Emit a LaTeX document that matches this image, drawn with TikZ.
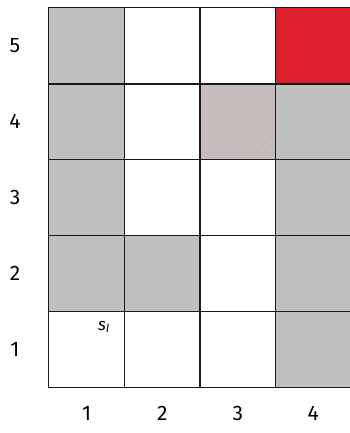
\documentclass[tikz,border=0pt]{standalone}
\usepackage{fontspec}
\setmainfont{Fira Sans}
\usetikzlibrary{patterns.meta, positioning}
\definecolor{gwall}{HTML}{C0C0C0}
\definecolor{ggoal}{HTML}{DC1F2A}
\definecolor{ghatch}{HTML}{EEA3AA}
\definecolor{gline}{HTML}{1A1A1A}
\tikzset{
  cell/.style={rectangle, minimum width=75.5pt, minimum height=75.8pt, inner sep=0pt},
  free/.style={fill=white},
  wall/.style={fill=gwall},
  goal/.style={fill=ggoal},
  trap/.style={fill=gwall, postaction={pattern={Lines[angle=45, distance=6pt, line width=0.7pt]},
               pattern color=ghatch}},
  edge/.style={draw=gline, line width=0.8pt},
  axlbl/.style={font=\fontsize{21}{25}\selectfont, inner sep=0pt}
}

\begin{document}
\begin{tikzpicture}[x=1pt, y=1pt]
  \useasboundingbox (0,0) rectangle (350,433);
  % grid cells, column/row/kind
  \foreach \c/\r/\k in {1/5/wall, 2/5/free, 3/5/free, 4/5/goal,
                        1/4/wall, 2/4/free, 3/4/trap, 4/4/wall,
                        1/3/wall, 2/3/free, 3/3/free, 4/3/wall,
                        1/2/wall, 2/2/wall, 3/2/free, 4/2/wall,
                        1/1/free, 2/1/free, 3/1/free, 4/1/wall}
    \node[cell, \k] (c\c\r) at ({49+75.5*(\c-0.5)}, {46+75.8*(\r-0.5)}) {};
  % cell outlines on top of the fills
  \foreach \c in {1,...,4}
    \foreach \r in {1,...,5}
      \draw[edge] (c\c\r.south west) rectangle (c\c\r.north east);
  % axis numbers
  \foreach \r in {1,...,5}
    \node[axlbl] (row\r) at (15, {46+75.8*(\r-0.5)}) {\r};
  \foreach \c in {1,...,4}
    \node[axlbl] (col\c) at ({49+75.5*(\c-0.5)}, 20) {\c};
  \node[font=\fontsize{17}{20}\selectfont\itshape, inner sep=0pt] (start) at (104, 106) {s\textsubscript{I}};
\end{tikzpicture}
\end{document}
